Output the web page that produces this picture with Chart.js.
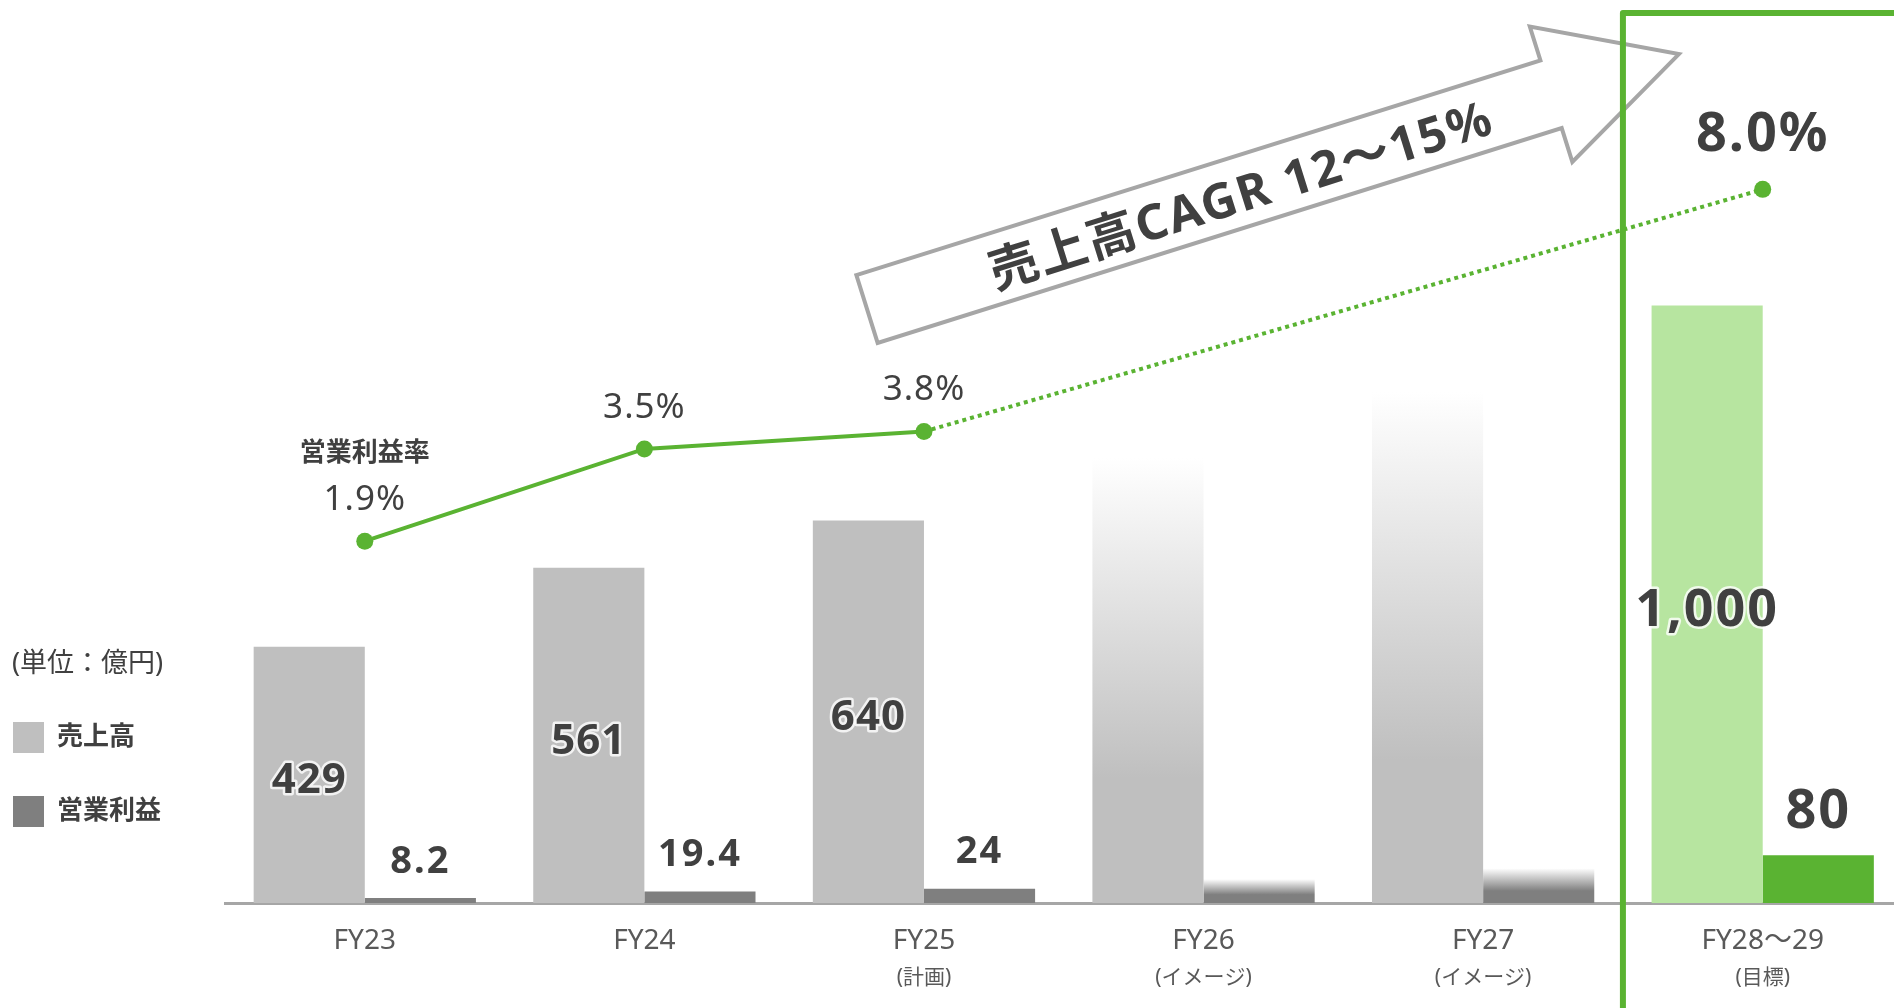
<!DOCTYPE html>
<html lang="ja">
<head>
<meta charset="utf-8">
<title>売上高・営業利益・営業利益率</title>
<script src="https://cdn.jsdelivr.net/npm/chart.js@4.4.1/dist/chart.umd.min.js"></script>
<style>
  html, body { margin: 0; padding: 0; background: #fff; overflow: hidden; }
  #wrap { position: relative; width: 1911px; height: 1008px; }
</style>
</head>
<body>
<div id="wrap"><canvas id="chart"></canvas></div>
<script>
// 売上高・営業利益（億円）と営業利益率（%）の推移

const categories = ['FY23', 'FY24', 'FY25', 'FY26', 'FY27', 'FY28～29'];
const subLabels  = ['', '', '(計画)', '(イメージ)', '(イメージ)', '(目標)'];

// FY26 / FY27 はイメージ棒（数値表記なし、棒の高さから読取）
const sales    = [429, 561, 640, 745, 855, 1000];
const opProfit = [8.2, 19.4, 24, 40, 58, 80];
const opMargin = [1.9, 3.5, 3.8, null, null, 8.0];

const salesLabels  = ['429', '561', '640', '', '', '1,000'];
const profitLabels = ['8.2', '19.4', '24', '', '', '80'];
const marginLabels = ['1.9%', '3.5%', '3.8%', '', '', '8.0%'];

// ── 色・フォント ─────────────────────────────────────────────
const FONT        = "'Noto Sans', 'Noto Sans CJK JP', sans-serif";
const TEXT        = '#404040';
const TICK_TEXT   = '#595959';
const SALES_GRAY  = '#bfbfbf';
const PROFIT_GRAY = '#7f7f7f';
const GREEN       = '#5ab332';
const LIGHT_GREEN = '#b7e5a0';
const AXIS_GRAY   = '#a6a6a6';

const IMAGE_IDX  = [3, 4];  // グラデーション表示（イメージ）
const TARGET_IDX = 5;       // 目標（緑）

// 矢印（売上高CAGR）: 尾の中心・角度・寸法
const ARROW = { tailX: 867, tailY: 309, angle: -17.43 * Math.PI / 180,
                length: 851, headLength: 134, shaftHalf: 35.5, headHalf: 71 };

function _fadeFill(chart, value, solidColor, solidStop) {
  const y = chart.scales.y;
  if (!chart.chartArea || !y) return solidColor;
  const top = y.getPixelForValue(value);
  const bottom = y.getPixelForValue(0);
  const g = chart.ctx.createLinearGradient(0, top, 0, bottom);
  g.addColorStop(0, '#ffffff');
  g.addColorStop(solidStop, solidColor);
  g.addColorStop(1, solidColor);
  return g;
}

function salesColor(c) {
  const i = c.dataIndex;
  if (i === TARGET_IDX) return LIGHT_GREEN;
  if (IMAGE_IDX.includes(i)) return _fadeFill(c.chart, sales[i], SALES_GRAY, 0.72);
  return SALES_GRAY;
}

function profitColor(c) {
  const i = c.dataIndex;
  if (i === TARGET_IDX) return GREEN;
  if (IMAGE_IDX.includes(i)) return _fadeFill(c.chart, opProfit[i], PROFIT_GRAY, 0.65);
  return PROFIT_GRAY;
}

// ── 描画プラグイン ───────────────────────────────────────────

function drawArrow(chart) {
  const ctx = chart.ctx;
  const a = ARROW;
  const neck = a.length - a.headLength;
  ctx.save();
  ctx.translate(a.tailX, a.tailY);
  ctx.rotate(a.angle);
  ctx.beginPath();
  ctx.moveTo(0, -a.shaftHalf);
  ctx.lineTo(neck, -a.shaftHalf);
  ctx.lineTo(neck, -a.headHalf);
  ctx.lineTo(a.length, 0);
  ctx.lineTo(neck, a.headHalf);
  ctx.lineTo(neck, a.shaftHalf);
  ctx.lineTo(0, a.shaftHalf);
  ctx.closePath();
  ctx.fillStyle = '#ffffff';
  ctx.fill();
  ctx.lineWidth = 4;
  ctx.strokeStyle = AXIS_GRAY;
  ctx.lineJoin = 'miter';
  ctx.stroke();

  ctx.font = 'bold 49px ' + FONT;
  ctx.letterSpacing = '2px';
  ctx.textAlign = 'center';
  ctx.textBaseline = 'alphabetic';
  ctx.fillStyle = TEXT;
  ctx.fillText('売上高CAGR 12～15%', 391, 20);
  ctx.restore();
}

function drawTargetBox(chart) {
  const ctx = chart.ctx;
  const x = chart.scales.x;
  const left = (x.getPixelForValue(4) + x.getPixelForValue(5)) / 2;
  ctx.save();
  ctx.beginPath();
  ctx.moveTo(left, chart.height + 10);
  ctx.lineTo(left, 13);
  ctx.lineTo(chart.width + 10, 13);
  ctx.lineWidth = 6;
  ctx.lineJoin = 'round';
  ctx.strokeStyle = GREEN;
  ctx.stroke();
  ctx.restore();
}

function _text(ctx, str, x, yCenter, size, weight, color, halo, spacing) {
  ctx.font = weight + ' ' + size + 'px ' + FONT;
  ctx.letterSpacing = (spacing || 0) + 'px';
  const y = yCenter + size * 0.36;
  if (halo) {
    ctx.lineWidth = 5;
    ctx.lineJoin = 'round';
    ctx.strokeStyle = 'rgba(255,255,255,0.8)';
    ctx.strokeText(str, x, y);
  }
  ctx.fillStyle = color;
  ctx.fillText(str, x, y);
}

function drawValueLabels(chart) {
  const ctx = chart.ctx;
  const salesBars  = chart.getDatasetMeta(0).data;
  const profitBars = chart.getDatasetMeta(1).data;
  const points     = chart.getDatasetMeta(2).data;
  ctx.save();
  ctx.textAlign = 'center';
  ctx.textBaseline = 'alphabetic';

  salesBars.forEach((bar, i) => {
    if (!salesLabels[i]) return;
    const big = i === TARGET_IDX;
    _text(ctx, salesLabels[i], bar.x, (bar.y + bar.base) / 2 + 3, big ? 52 : 42, 'bold', TEXT, true, big ? 2 : 1);
  });

  profitBars.forEach((bar, i) => {
    if (!profitLabels[i]) return;
    const big = i === TARGET_IDX;
    _text(ctx, profitLabels[i], bar.x, bar.y - (big ? 47 : 39), big ? 54 : 38, 'bold', TEXT, false, 2);
  });

  points.forEach((pt, i) => {
    if (!marginLabels[i] || opMargin[i] === null) return;
    if (i === TARGET_IDX) {
      _text(ctx, marginLabels[i], pt.x, pt.y - 58, 54, 'bold', TEXT, false, 2);
    } else {
      _text(ctx, marginLabels[i], pt.x, pt.y - 44, 35, 'normal', TEXT, false, 1);
    }
  });

  // 系列名（営業利益率）
  const first = points[0];
  _text(ctx, '営業利益率', first.x, first.y - 90, 26, 'bold', TEXT, false);
  ctx.restore();
}

function drawLegend(chart) {
  const ctx = chart.ctx;
  ctx.save();
  ctx.textAlign = 'left';
  _text(ctx, '(単位：億円)', 12, 662, 27, 'normal', TEXT, false);
  ctx.fillStyle = SALES_GRAY;
  ctx.fillRect(13, 722, 31, 31);
  _text(ctx, '売上高', 57, 736, 26, 'bold', TEXT, false);
  ctx.fillStyle = PROFIT_GRAY;
  ctx.fillRect(13, 796, 31, 31);
  _text(ctx, '営業利益', 57, 810, 26, 'bold', TEXT, false);
  ctx.restore();
}

const overlayPlugin = {
  id: 'overlay',
  beforeDatasetsDraw(chart) { drawArrow(chart); },
  afterDatasetsDraw(chart) {
    drawTargetBox(chart);
    drawValueLabels(chart);
    drawLegend(chart);
  }
};

// ── チャート ────────────────────────────────────────────────

new Chart(document.getElementById('chart').getContext('2d'), {
  type: 'bar',
  data: {
    labels: categories,
    datasets: [
      {
        label: '売上高', data: sales, yAxisID: 'y', order: 2,
        backgroundColor: salesColor, borderWidth: 0,
        categoryPercentage: 0.795, barPercentage: 1.0
      },
      {
        label: '営業利益', data: opProfit, yAxisID: 'y', order: 2,
        backgroundColor: profitColor, borderWidth: 0,
        categoryPercentage: 0.795, barPercentage: 1.0
      },
      {
        type: 'line', label: '営業利益率', data: opMargin, yAxisID: 'y2', order: 0,
        borderColor: GREEN, borderWidth: 4, tension: 0, spanGaps: true,
        pointRadius: 8.5, pointBackgroundColor: GREEN, pointBorderWidth: 0,
        segment: { borderDash: c => (c.p1DataIndex > 2 ? [4, 4] : undefined) }
      }
    ]
  },
  options: {
    responsive: true,
    maintainAspectRatio: false,
    animation: false,
    layout: { padding: { left: 225, right: 0, top: 3, bottom: 0 } },
    plugins: { legend: { display: false }, tooltip: { enabled: false } },
    scales: {
      x: {
        offset: true,
        grid: { display: false, drawTicks: false },
        border: { color: AXIS_GRAY, width: 3 },
        ticks: { color: TICK_TEXT, font: { family: FONT, size: 28 }, padding: 21, maxRotation: 0, autoSkip: false },
        afterFit: s => { s.height = 60; }
      },
      x2: {
        type: 'category', labels: subLabels, position: 'bottom', offset: true,
        grid: { display: false, drawTicks: false },
        border: { display: false },
        ticks: { color: TICK_TEXT, font: { family: FONT, size: 21 }, padding: 2, maxRotation: 0, autoSkip: false },
        afterFit: s => { s.height = 45; }
      },
      y:  { display: false, min: 0, max: 1497 },
      y2: { display: false, min: -4.373, max: 11.136 }
    }
  },
  plugins: [overlayPlugin]
});
</script>
</body>
</html>
